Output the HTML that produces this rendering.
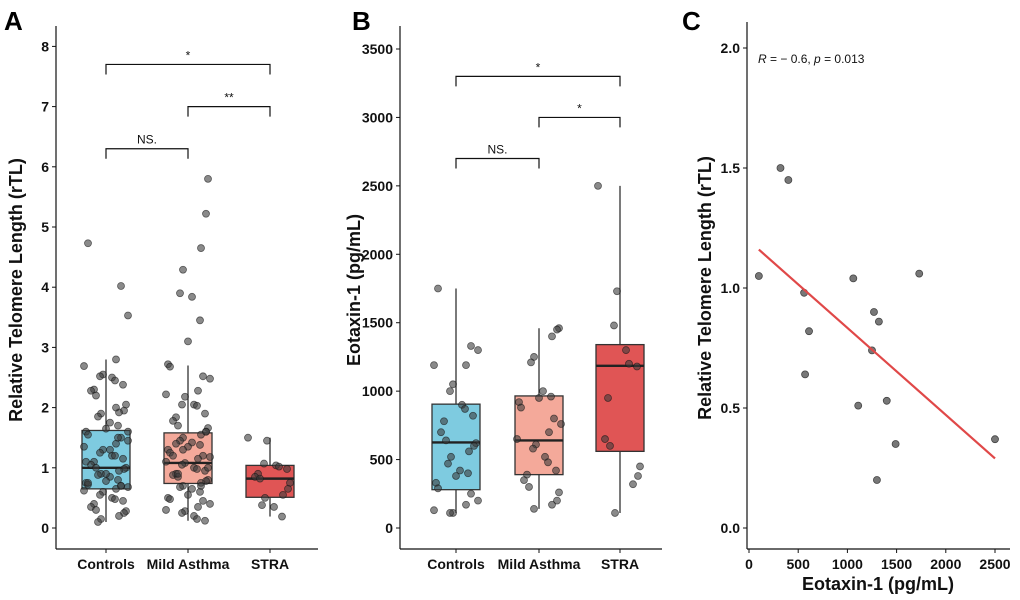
<!DOCTYPE html>
<html><head><meta charset="utf-8">
<style>
body{margin:0;background:#fff;}
svg{display:block;font-family:"Liberation Sans",Arial,sans-serif;}
.tick{font-weight:bold;font-size:14px;fill:#111;}
.ttl{font-weight:bold;font-size:18px;fill:#111;}
.pl{font-weight:bold;font-size:26px;fill:#000;}
</style></head>
<body>
<svg id="chart" width="1020" height="600" viewBox="0 0 1020 600" xmlns="http://www.w3.org/2000/svg"></svg>
<script>
const categories = ["Controls", "Mild Asthma", "STRA"];
const groupColors = ["#7ecbe0", "#f4a99a", "#e05555"];
// Panel A: rTL
const aTicks = [0,1,2,3,4,5,6,7,8];
const aBoxes = [[0.1,0.65,1.0,1.62,2.8],[0.12,0.74,1.08,1.58,2.7],[0.19,0.51,0.82,1.04,1.5]];
const aControls = [4.73,4.02,3.53,2.8,2.69,2.55,2.52,2.5,2.45,2.38,2.3,2.28,2.2,2.05,1.95,1.92,1.9,1.85,1.75,1.7,1.65,1.6,1.55,1.5,1.45,1.4,1.35,1.3,1.25,1.2,1.2,1.15,1.1,1.05,1.0,1.0,0.98,0.95,0.9,0.88,0.85,0.8,0.78,0.75,0.72,0.7,0.68,0.65,0.62,0.6,0.55,0.5,0.48,0.45,0.4,0.35,0.3,0.28,0.25,0.2,0.15,0.1,1.3,1.5,0.9,1.1,0.75,0.7,1.6,2.0];
const aMild = [5.8,5.22,4.65,4.29,3.9,3.84,3.45,3.1,2.72,2.68,2.52,2.48,2.28,2.22,2.18,2.05,2.05,2.03,1.9,1.84,1.78,1.7,1.66,1.6,1.55,1.5,1.45,1.42,1.38,1.35,1.3,1.25,1.2,1.18,1.15,1.1,1.08,1.05,1.0,0.98,0.95,0.9,0.88,0.85,0.8,0.78,0.75,0.7,0.68,0.65,0.6,0.55,0.5,0.48,0.45,0.4,0.35,0.3,0.28,0.25,0.2,0.15,0.12,1.4,1.2,0.9,1.0,1.6,0.7,1.3];
const aSTRA = [1.5,1.45,1.07,1.04,1.02,0.98,0.9,0.85,0.82,0.75,0.65,0.55,0.5,0.38,0.35,0.19];
const aBrackets = [[0,1,6.3,"NS."],[1,2,7.0,"**"],[0,2,7.7,"*"]];
// Panel B: Eotaxin
const bTicks = [0,500,1000,1500,2000,2500,3000,3500];
const bBoxes = [[110,280,625,905,1750],[140,390,640,965,1460],[110,560,1185,1340,2500]];
const bControls = [1750,1330,1300,1190,1190,1050,1000,900,870,820,780,700,640,620,600,560,520,470,420,400,380,330,290,250,200,170,130,110,110];
const bMild = [1460,1450,1400,1250,1210,1000,960,950,920,880,800,760,700,650,610,580,520,480,420,390,350,300,260,200,170,140];
const bSTRA = [2500,1730,1480,1300,1200,1180,950,650,600,450,380,320,110];
const bBrackets = [[0,1,2700,"NS."],[1,2,3000,"*"],[0,2,3300,"*"]];
// Panel C: scatter
const cTicksX = [0,500,1000,1500,2000,2500];
const cTicksY = [0.0,0.5,1.0,1.5,2.0];
const cX = [100,320,400,560,570,610,1060,1110,1250,1270,1320,1300,1400,1490,1730,2500];
const cY = [1.05,1.5,1.45,0.98,0.64,0.82,1.04,0.51,0.74,0.9,0.86,0.2,0.53,0.35,1.06,0.37];
const cFit = [[100,1.16],[2500,0.29]];
const jitter = [-18,12,-5,20,-12,6,-22,15,0,-8,18,-15,9,-3,22,-20,4,13,-10,17,-6,10];

const svg = document.getElementById('chart');
const NS = "http://www.w3.org/2000/svg";
function mk(tag, attrs, parent, text){
  const e = document.createElementNS(NS, tag);
  for (const k in attrs) e.setAttribute(k, attrs[k]);
  if (text !== undefined) e.textContent = text;
  (parent || svg).appendChild(e);
  return e;
}

function boxPanel(opt){
  const g = mk('g', {});
  
  
  const y = v => opt.y0 - (v - 0) * opt.k;
  const x = i => opt.cx[i];
  const ya = mk('line', {x1:opt.ax, y1:opt.top, x2:opt.ax, y2:549, stroke:'#111', 'stroke-width':1.2}, g);
  
  
  const xa = mk('line', {x1:opt.ax, y1:549, x2:opt.ax+262, y2:549, stroke:'#111', 'stroke-width':1.2}, g);
  
  
  opt.ticks.forEach(t => {
    mk('line', {x1:opt.ax-4, y1:y(t), x2:opt.ax, y2:y(t), stroke:'#111'}, g);
    const tl = mk('text', {x:opt.ax-7, y:y(t)+5, 'text-anchor':'end', class:'tick'}, g, String(t));
    
    
  });
  categories.forEach((c, i) => {
    mk('line', {x1:x(i), y1:549, x2:x(i), y2:553, stroke:'#111'}, g);
    const tl = mk('text', {x:x(i), y:569, 'text-anchor':'middle', class:'tick'}, g, c);
    
    
  });
  const yt = mk('text', {x:0, y:0, transform:`translate(${opt.titleX},${opt.titleY}) rotate(-90)`, 'text-anchor':'middle', class:'ttl'}, g, opt.ytitle);
  
  
  opt.boxes.forEach((b, i) => {
    const bx = mk('g', {}, g);
    
    
    mk('line', {x1:x(i), y1:y(b[0]), x2:x(i), y2:y(b[4]), stroke:'#222', 'stroke-width':1.2}, bx);
    mk('rect', {x:x(i)-24, y:y(b[3]), width:48, height:y(b[1])-y(b[3]), fill:groupColors[i], stroke:'#333', 'stroke-width':1.3}, bx);
    mk('line', {x1:x(i)-24, y1:y(b[2]), x2:x(i)+24, y2:y(b[2]), stroke:'#222', 'stroke-width':2.4}, bx);
  });
  opt.points.forEach((arr, gi) => {
    arr.forEach((v, j) => {
      const p = mk('circle', {cx:x(gi) + jitter[(j*7+gi*3) % jitter.length], cy:y(v), r:3.5, fill:'rgba(60,60,60,0.6)', stroke:'rgba(20,20,20,0.6)', 'stroke-width':0.8}, g);
      
      
    });
  });
  opt.brackets.forEach(br => {
    const bg = mk('g', {}, g);
    
    
    const yy = y(br[2]), x1 = x(br[0]), x2 = x(br[1]);
    mk('path', {d:`M${x1},${yy+10} V${yy} H${x2} V${yy+10}`, fill:'none', stroke:'#111', 'stroke-width':1.2}, bg);
    mk('text', {x:(x1+x2)/2, y:yy-5, 'text-anchor':'middle', 'font-size':12, fill:'#111'}, bg, br[3]);
  });
}

boxPanel({name:'panel-a', ax:56, top:26, y0:528, k:60.2, cx:[106,188,270], ticks:aTicks, boxes:aBoxes,
  points:[aControls,aMild,aSTRA], brackets:aBrackets, ytitle:'Relative Telomere Length (rTL)', titleX:22, titleY:290});
boxPanel({name:'panel-b', ax:400, top:26, y0:528, k:479/3500, cx:[456,539,620], ticks:bTicks, boxes:bBoxes,
  points:[bControls,bMild,bSTRA], brackets:bBrackets, ytitle:'Eotaxin-1 (pg/mL)', titleX:360, titleY:290});

(function(){
  const g = mk('g', {});
  
  
  const x = v => 749 + v * (246/2500);
  const y = v => 528 - v * 240;
  const ya = mk('line', {x1:747, y1:22, x2:747, y2:549, stroke:'#111', 'stroke-width':1.2}, g);
  
  
  const xa = mk('line', {x1:747, y1:549, x2:1010, y2:549, stroke:'#111', 'stroke-width':1.2}, g);
  
  
  cTicksY.forEach(t => {
    mk('line', {x1:743, y1:y(t), x2:747, y2:y(t), stroke:'#111'}, g);
    const tl = mk('text', {x:740, y:y(t)+5, 'text-anchor':'end', class:'tick'}, g, t.toFixed(1));
    
    
  });
  cTicksX.forEach(t => {
    mk('line', {x1:x(t), y1:549, x2:x(t), y2:553, stroke:'#111'}, g);
    const tl = mk('text', {x:x(t), y:569, 'text-anchor':'middle', class:'tick'}, g, String(t));
    
    
  });
  const yt = mk('text', {x:0, y:0, transform:'translate(711,288) rotate(-90)', 'text-anchor':'middle', class:'ttl'}, g, 'Relative Telomere Length (rTL)');
  
  
  const xt = mk('text', {x:878, y:590, 'text-anchor':'middle', class:'ttl'}, g, 'Eotaxin-1 (pg/mL)');
  
  
  const ann = mk('text', {x:758, y:63, 'font-size':12, fill:'#111'}, g);
  
  
  ann.innerHTML = '<tspan font-style="italic">R</tspan> = \u2212 0.6, <tspan font-style="italic">p</tspan> = 0.013';
  cX.forEach((v, i) => {
    const p = mk('circle', {cx:x(v), cy:y(cY[i]), r:3.5, fill:'#777', stroke:'#444', 'stroke-width':0.8}, g);
    
    
  });
  const fl = mk('line', {x1:x(cFit[0][0]), y1:y(cFit[0][1]), x2:x(cFit[1][0]), y2:y(cFit[1][1]), stroke:'#e04848', 'stroke-width':2.2}, g);
  
  
})();

[['A',4,'panel-label-a'],['B',352,'panel-label-b'],['C',682,'panel-label-c']].forEach(l => {
  const t = mk('text', {x:l[1], y:30, class:'pl'}, svg, l[0]);
  
  
});
</script>
</body></html>
